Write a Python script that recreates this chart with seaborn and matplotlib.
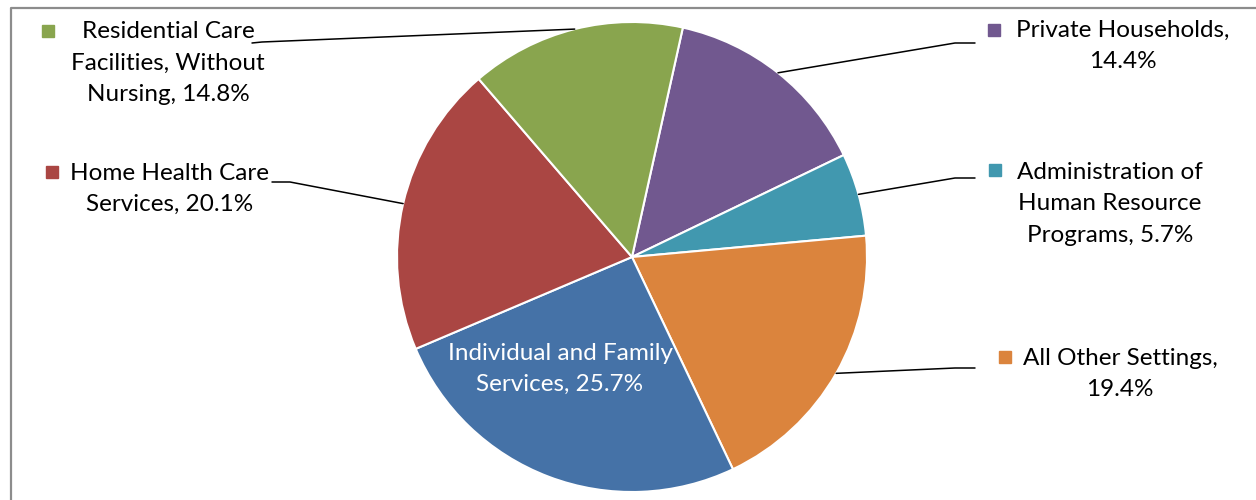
import matplotlib
matplotlib.use("Agg")
import matplotlib.pyplot as plt
import seaborn as sns
import numpy as np

# data (clockwise from the top)
categories = ["Private Households",
              "Administration of Human Resource Programs",
              "All Other Settings",
              "Individual and Family Services",
              "Home Health Care Services",
              "Residential Care Facilities, Without Nursing"]
shares = [14.4, 5.7, 19.4, 25.7, 20.1, 14.8]
label_texts = ["Private Households,\n14.4%",
               "Administration of\nHuman Resource\nPrograms, 5.7%",
               "All Other Settings,\n19.4%",
               "Individual and Family\nServices, 25.7%",
               "Home Health Care\nServices, 20.1%",
               "Residential Care\nFacilities, Without\nNursing, 14.8%"]
colors = ["#71588F", "#4198AF", "#DB843D", "#4572A7", "#AA4643", "#89A54E"]

sns.set_theme(style="white")
plt.rcParams["font.family"] = ["Lato", "DejaVu Sans"]

W, H = 1256, 500
fig = plt.figure(figsize=(W / 100, H / 100), dpi=100)
ax = fig.add_axes([0, 0, 1, 1])

cx, cy, r = 632, H - 257, 235
wedges, _ = ax.pie(shares, colors=colors, startangle=77.5, counterclock=False,
                   center=(cx, cy), radius=r,
                   wedgeprops=dict(edgecolor="white", linewidth=1.5))
ax.set_xlim(0, W)
ax.set_ylim(0, H)
ax.set_aspect("auto")
ax.axis("off")

# label layout in pixel coords: (text centre, marker, leader end, elbow)
layout = [
    dict(xy=(1123, 46), marker=(994, 30), end=(975, 43), elbow=(955, 43)),
    dict(xy=(1110, 204), marker=(995, 170), end=(975, 178), elbow=(955, 178)),
    dict(xy=(1120, 374), marker=(1005, 357), end=(975, 368), elbow=(955, 368)),
    dict(xy=(560, 369), marker=None, end=None, elbow=None),
    dict(xy=(170, 189), marker=(52, 172), end=(272, 182), elbow=(290, 182)),
    dict(xy=(168, 63), marker=(48, 31), end=(252, 43), elbow=(262, 42)),
]

for w, txt, col, lay in zip(wedges, label_texts, colors, layout):
    inside = lay["marker"] is None
    tx, ty = lay["xy"]
    ax.text(tx, H - ty, txt, ha="center", va="center", multialignment="center",
            fontsize=17.5, linespacing=1.6,
            color="white" if inside else "black")
    if inside:
        continue
    mx, my = lay["marker"]
    ax.plot(mx, H - my, marker="s", markersize=9, color=col, linestyle="none")
    mid = np.deg2rad((w.theta1 + w.theta2) / 2)
    px, py = cx + r * np.cos(mid), cy + r * np.sin(mid)
    ex, ey = lay["end"]
    bx, by = lay["elbow"]
    ax.plot([px, bx, ex], [py, H - by, H - ey], color="black", lw=1.1,
            solid_capstyle="round")

# chart area border (top and left edges visible)
ax.plot([11, 11, W], [0, H - 8, H - 8], color="#8c8c8c", lw=1.6)

fig.savefig("out.png", dpi=100)
